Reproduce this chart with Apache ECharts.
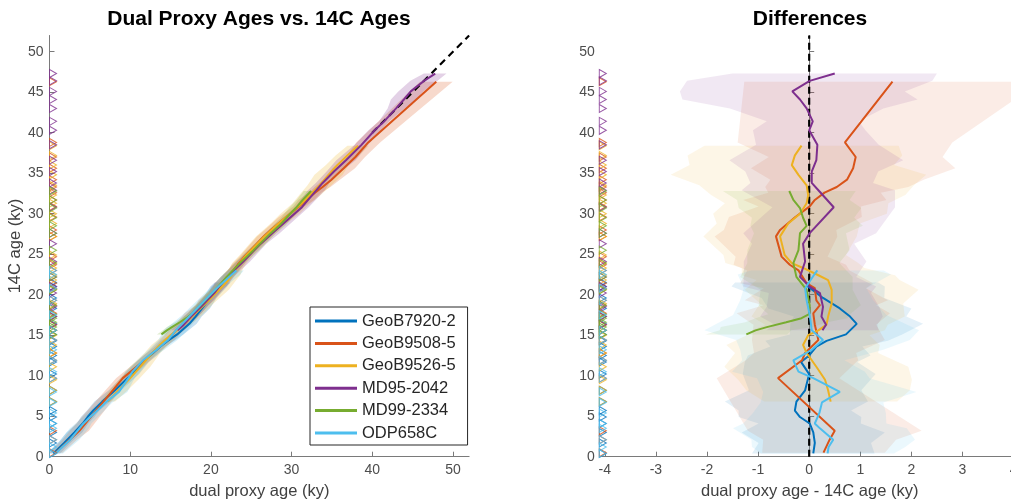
<!DOCTYPE html>
<html>
<head>
<meta charset="utf-8">
<script src="https://cdn.jsdelivr.net/npm/echarts@6/dist/echarts.min.js"></script>
<style>html,body{margin:0;padding:0;background:#fff;}#c{width:1011px;height:501px;}</style>
</head>
<body>
<div id="c"></div>
<script>
// ---- data ----
const cores = ['GeoB7920-2', 'GeoB9508-5', 'GeoB9526-5', 'MD95-2042', 'MD99-2334', 'ODP658C'];
const coreColors = ['#0072BD', '#D95319', '#EDB120', '#7E2F8E', '#77AC30', '#4DBEEE'];

// 14C ages (ky), difference dual proxy - 14C (ky), band half-width (ky)
const geoB7920Age  = [21.5, 21.0, 19.6, 18.3, 17.3, 16.4, 15.1, 14.3, 13.6, 12.5, 11.7, 10.2, 8.2, 6.8, 5.7, 4.9, 4.1, 3.0, 1.7, 0.4];
const geoB7920Diff = [-0.05, -0.02, 0.27, 0.60, 0.80, 0.93, 0.72, 0.34, 0.14, 0.00, -0.16, 0.00, -0.08, -0.25, -0.28, -0.18, 0.01, 0.08, 0.11, 0.08];
const geoB7920Err  = [1.4, 1.5, 1.2, 1.4, 1.1, 1.3, 1.1, 1.2, 0.9, 1.2, 1.1, 1.3, 1.1, 1.4, 1.1, 1.2, 1.0, 1.4, 1.1, 1.2];

const geoB9508Age  = [46.3, 38.8, 37.0, 35.6, 34.2, 33.3, 32.6, 31.7, 30.9, 29.6, 28.0, 27.2, 24.7, 23.7, 23.0, 21.4, 20.8, 19.3, 18.7, 17.7, 16.3, 14.4, 12.8, 11.9, 9.7, 3.2, 2.1, 0.5];
const geoB9508Diff = [1.63, 0.70, 0.91, 0.86, 0.74, 0.54, 0.30, 0.11, 0.01, -0.27, -0.57, -0.65, -0.54, -0.38, -0.21, -0.05, 0.11, 0.14, 0.21, 0.08, 0.11, 0.18, -0.08, -0.14, -0.61, 0.50, 0.40, 0.28];
const geoB9508Err  = [2.9, 2.1, 1.7, 2.0, 1.5, 1.4, 1.1, 1.4, 1.0, 1.3, 1.1, 1.2, 0.9, 1.1, 1.0, 1.3, 1.0, 1.4, 1.1, 1.5, 1.2, 1.3, 1.0, 1.1, 1.2, 1.7, 1.3, 1.2];

const geoB9526Age  = [38.4, 37.2, 36.0, 34.8, 33.5, 32.3, 31.3, 30.0, 28.8, 27.2, 24.9, 23.9, 23.3, 22.4, 21.8, 20.6, 18.9, 17.3, 16.3, 15.6, 15.0, 13.8, 12.8, 11.1, 9.5, 8.2, 6.8];
const geoB9526Diff = [-0.15, -0.28, -0.34, -0.21, -0.05, -0.02, -0.05, -0.18, -0.41, -0.57, -0.48, -0.34, -0.12, 0.18, 0.37, 0.44, 0.44, 0.37, 0.34, 0.18, -0.02, -0.12, -0.05, 0.14, 0.31, 0.37, 0.42];
const geoB9526Err  = [1.9, 2.1, 2.0, 2.5, 2.1, 1.9, 1.6, 1.7, 1.4, 1.5, 1.2, 1.3, 1.2, 1.5, 1.4, 1.7, 1.4, 1.5, 1.2, 1.3, 1.2, 1.5, 1.4, 1.8, 1.7, 1.6, 1.3];

const md952042Age  = [47.3, 46.4, 45.1, 44.1, 43.0, 41.4, 40.3, 38.5, 36.6, 35.2, 33.8, 32.9, 30.8, 27.6, 26.3, 24.1, 22.2, 21.0, 20.2, 18.5, 17.3, 16.3, 15.6];
const md952042Diff = [0.50, 0.01, -0.33, -0.18, -0.05, 0.07, 0.00, 0.16, 0.14, 0.05, 0.05, 0.18, 0.48, 0.01, -0.12, -0.08, -0.18, 0.01, 0.21, 0.27, 0.24, 0.33, 0.26];
const md952042Err  = [2.0, 2.4, 2.2, 2.3, 1.5, 0.9, 1.1, 1.2, 1.7, 1.3, 1.2, 1.5, 1.2, 1.3, 1.0, 1.2, 1.1, 1.3, 1.0, 1.1, 1.2, 1.0, 1.1];

const md992334Age  = [32.8, 31.7, 30.7, 29.5, 28.5, 27.6, 25.5, 23.9, 22.2, 20.6, 18.7, 17.6, 17.1, 16.6, 16.0, 15.6, 15.1];
const md992334Diff = [-0.39, -0.31, -0.18, -0.12, -0.05, -0.18, -0.21, -0.31, -0.25, -0.05, 0.01, 0.00, -0.15, -0.45, -0.83, -1.05, -1.23];
const md992334Err  = [1.3, 1.1, 1.2, 1.0, 1.1, 0.9, 1.0, 0.9, 1.1, 0.9, 1.0, 0.8, 0.9, 0.8, 0.9, 0.7, 0.8];

const odp658Age  = [23.0, 22.5, 20.8, 19.3, 17.5, 15.6, 14.4, 13.2, 11.9, 10.5, 9.7, 8.0, 6.7, 5.4, 4.1, 3.5, 2.1, 1.2, 0.4];
const odp658Diff = [0.16, 0.10, -0.08, -0.05, 0.01, 0.05, 0.27, 0.05, -0.31, -0.21, 0.08, 0.60, 0.25, 0.20, 0.11, 0.21, 0.47, 0.38, 0.36];
const odp658Err  = [1.3, 1.5, 1.2, 1.3, 1.5, 2.1, 1.7, 1.4, 1.0, 1.3, 1.1, 1.5, 1.2, 1.3, 1.4, 1.7, 1.6, 1.5, 1.3];

const oneToOne = [[40, 40], [52, 52]];
const zeroLine = [[0, 0], [0, 52]];
const ageTicks = [0, 5, 10, 15, 20, 25, 30, 35, 40, 45, 50];
const diffTicks = [-4, -3, -2, -1, 0, 1, 2, 3, 4];

// ---- build ----
const coreData = [
  [geoB7920Age, geoB7920Diff, geoB7920Err],
  [geoB9508Age, geoB9508Diff, geoB9508Err],
  [geoB9526Age, geoB9526Diff, geoB9526Err],
  [md952042Age, md952042Diff, md952042Err],
  [md992334Age, md992334Diff, md992334Err],
  [odp658Age, odp658Diff, odp658Err]
];
const leftBandScale = 0.7;
const FONT = "'Liberation Sans', Arial, Helvetica, sans-serif";

function bandSeries(pts, color, opacity, axisIdx, z) {
  return {
    type: 'custom', xAxisIndex: axisIdx, yAxisIndex: axisIdx, z: z, silent: true,
    data: pts, clip: true,
    renderItem: function (params, api) {
      if (params.dataIndex !== 0) return null;
      return { type: 'polygon', shape: { points: pts.map(p => api.coord(p)) },
               style: { fill: color, opacity: opacity } };
    }
  };
}

const series = [];
const triPath = 'path://M0,0L10,5L0,10Z';
coreData.forEach((cd, i) => {
  const [age, diff, err] = cd;
  const c = coreColors[i];
  const lLo = age.map((a, k) => [a + diff[k] - err[k] * leftBandScale, a]);
  const lHi = age.map((a, k) => [a + diff[k] + err[k] * leftBandScale, a]).reverse();
  series.push(bandSeries(lLo.concat(lHi), c, 0.22, 0, 1));
  const rLo = age.map((a, k) => [diff[k] - err[k], a]);
  const rHi = age.map((a, k) => [diff[k] + err[k], a]).reverse();
  series.push(bandSeries(rLo.concat(rHi), c, 0.11, 1, 1));
});
series.push({ type: 'line', xAxisIndex: 0, yAxisIndex: 0, z: 3, silent: true, showSymbol: false,
  data: oneToOne, lineStyle: { color: '#000', width: 2.2, type: [7, 5] } });
series.push({ type: 'line', xAxisIndex: 1, yAxisIndex: 1, z: 3, silent: true, showSymbol: false,
  data: zeroLine, lineStyle: { color: '#000', width: 2.2, type: [7, 4] } });
coreData.forEach((cd, i) => {
  const [age, diff] = cd;
  const c = coreColors[i];
  series.push({ name: cores[i], type: 'line', xAxisIndex: 0, yAxisIndex: 0, z: 4, showSymbol: false,
    color: c, data: age.map((a, k) => [a + diff[k], a]), lineStyle: { color: c, width: 2 } });
  series.push({ name: cores[i] + ' ', type: 'line', xAxisIndex: 1, yAxisIndex: 1, z: 4, showSymbol: false,
    color: c, data: age.map((a, k) => [diff[k], a]), lineStyle: { color: c, width: 2 } });
  series.push({ type: 'scatter', xAxisIndex: 0, yAxisIndex: 0, z: 5, silent: true,
    symbol: triPath, symbolSize: [7, 8], symbolOffset: [3.5, 0],
    itemStyle: { color: 'rgba(0,0,0,0)', borderColor: c, borderWidth: 1 },
    data: age.map(a => [0, a]) });
  series.push({ type: 'scatter', xAxisIndex: 1, yAxisIndex: 1, z: 5, silent: true,
    symbol: triPath, symbolSize: [7, 8], symbolOffset: [-2, 0],
    itemStyle: { color: 'rgba(0,0,0,0)', borderColor: c, borderWidth: 1 },
    data: age.map(a => [-4, a]) });
});

const axisLine = { show: true, lineStyle: { color: '#7a7a7a', width: 1 } };
const axisLabel = { color: '#4d4d4d', fontSize: 14, fontFamily: FONT, margin: 6 };
const nameStyle = { color: '#404040', fontSize: 16.5, fontFamily: FONT };

const option = {
  animation: false,
  backgroundColor: '#fff',
  title: [
    { text: 'Dual Proxy Ages vs. 14C Ages', left: 259, top: 9, padding: 0, textAlign: 'center',
      textStyle: { fontSize: 21, fontWeight: 'bold', color: '#000', fontFamily: FONT } },
    { text: 'Differences', left: 810, top: 9, padding: 0, textAlign: 'center',
      textStyle: { fontSize: 21, fontWeight: 'bold', color: '#000', fontFamily: FONT } }
  ],
  legend: {
    data: cores.map((n, i) => ({ name: n, icon: 'rect', itemStyle: { color: coreColors[i] } })),
    orient: 'vertical', left: 310, top: 307,
    itemWidth: 42, itemHeight: 3, itemGap: 4.4,
    padding: [5, 12, 3, 5],
    borderColor: '#262626', borderWidth: 1, backgroundColor: '#fff',
    textStyle: { fontSize: 16.5, color: '#262626', fontFamily: FONT, lineHeight: 18 },
    selectedMode: false
  },
  grid: [
    { left: 49.5, top: 35.5, width: 419.6, height: 421.2, outerBoundsMode: 'none' },
    { left: 600.7, top: 35.5, width: 418, height: 421.2, outerBoundsMode: 'none' }
  ],
  xAxis: [
    { type: 'value', gridIndex: 0, min: 0, max: 52, interval: 10,
      name: 'dual proxy age (ky)', nameLocation: 'middle', nameGap: 26, nameTextStyle: nameStyle,
      axisLine: axisLine, axisTick: { show: true, inside: true, length: 5, lineStyle: { color: '#7a7a7a' } },
      axisLabel: Object.assign({ showMaxLabel: false }, axisLabel), splitLine: { show: false } },
    { type: 'value', gridIndex: 1, min: -4.08, max: 4.1,
      name: 'dual proxy age - 14C age (ky)', nameLocation: 'middle', nameGap: 26, nameTextStyle: nameStyle,
      axisLine: axisLine,
      axisTick: { show: true, inside: true, length: 5, customValues: diffTicks, lineStyle: { color: '#7a7a7a' } },
      axisLabel: Object.assign({ customValues: diffTicks }, axisLabel), splitLine: { show: false } }
  ],
  yAxis: [
    { type: 'value', gridIndex: 0, min: 0, max: 52,
      name: '14C age (ky)', nameLocation: 'middle', nameGap: 25, nameTextStyle: nameStyle,
      axisLine: axisLine,
      axisTick: { show: true, inside: true, length: 5, customValues: ageTicks, lineStyle: { color: '#7a7a7a' } },
      axisLabel: Object.assign({ customValues: ageTicks }, axisLabel), splitLine: { show: false } },
    { type: 'value', gridIndex: 1, min: 0, max: 52,
      axisLine: axisLine,
      axisTick: { show: true, inside: true, length: 5, customValues: ageTicks, lineStyle: { color: '#7a7a7a' } },
      axisLabel: Object.assign({ customValues: ageTicks }, axisLabel), splitLine: { show: false } }
  ],
  series: series
};
const chart = echarts.init(document.getElementById('c'), null, { renderer: 'canvas' });
chart.setOption(option);
</script>
</body>
</html>
